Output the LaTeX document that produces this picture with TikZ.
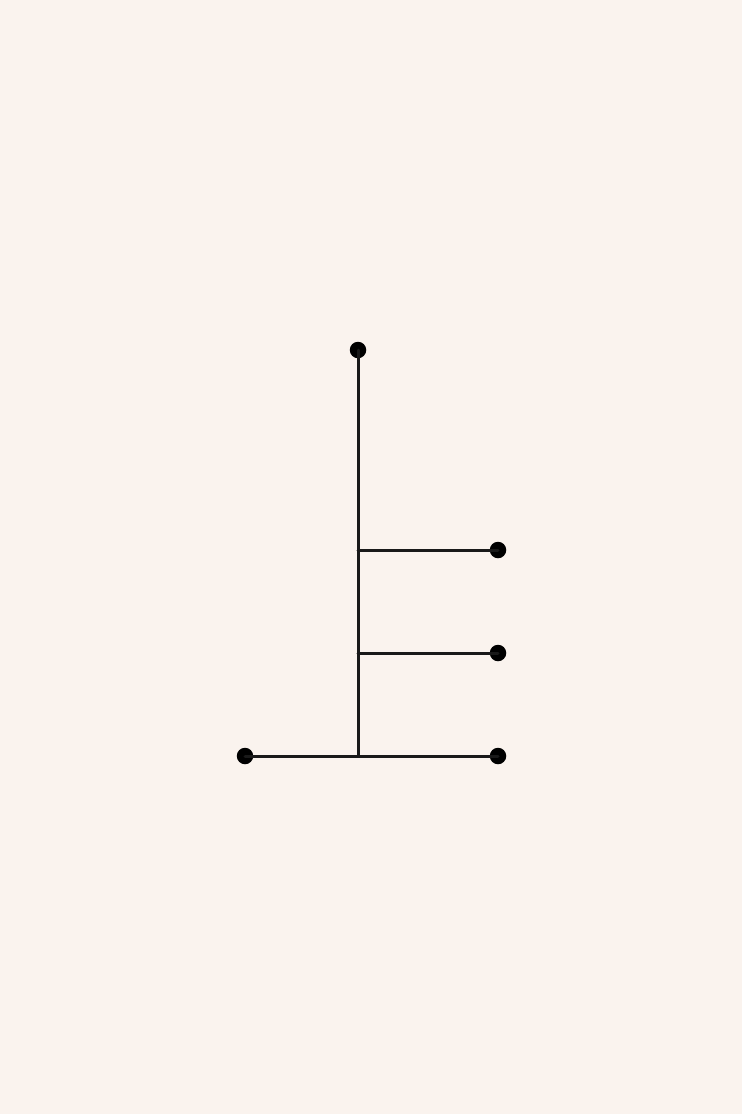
\documentclass[tikz,border=0pt]{standalone}
\usepackage{tikz}
\definecolor{paper}{HTML}{FAF3EE}
\tikzset{
  leaf/.style   = {shape=circle, fill=black, inner sep=0pt,
                   minimum size=16.5pt},
  branch/.style = {draw=black!90, line width=3pt, line cap=round}
}

\begin{document}
\begin{tikzpicture}
 [x=1pt, y=-1pt]

  \fill[paper] (0,0) rectangle (742,1114);
  \useasboundingbox (0,0) rectangle (742,1114);

  % junctions on the stem
  \coordinate (j1) at (358,550);
  \coordinate (j2) at (358,653);
  \coordinate (j3) at (358,756);

  % leaves
  \node [leaf] (top)   at (358,350) {};
  \node [leaf] (mid1)  at (498,550) {};
  \node [leaf] (mid2)  at (498,653) {};
  \node [leaf] (left)  at (245,756) {};
  \node [leaf] (right) at (498,756) {};

  \draw [branch] (top.center) -- (j3);
  \draw [branch] (j1) -- (mid1.center);
  \draw [branch] (j2) -- (mid2.center);
  \draw [branch] (left.center) -- (right.center);
\end{tikzpicture}
\end{document}
